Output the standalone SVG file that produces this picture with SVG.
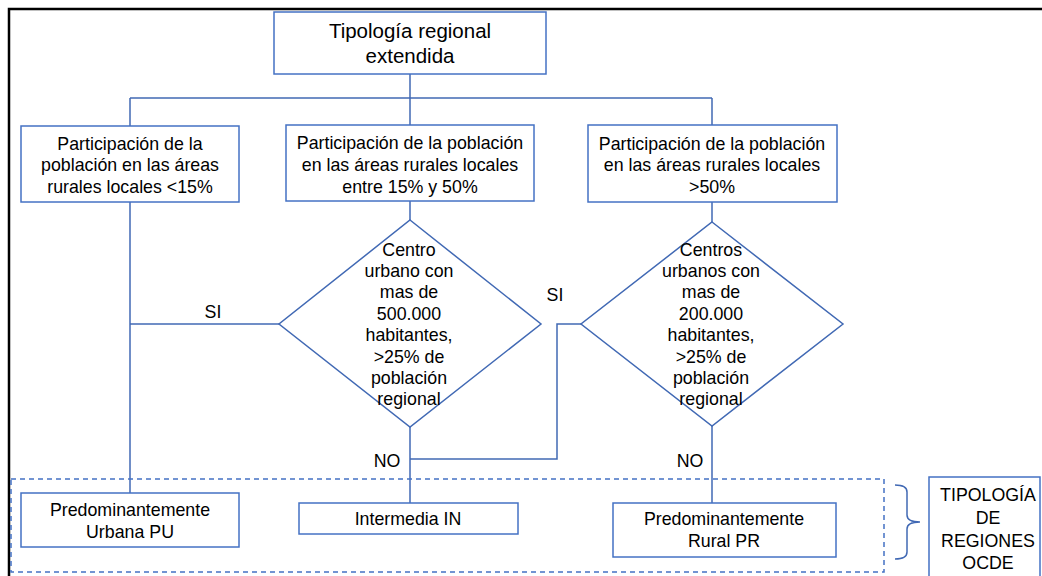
<svg xmlns="http://www.w3.org/2000/svg" width="1042" height="576" viewBox="0 0 1042 576">
<style>
.box{fill:#fff;stroke:#4472C4;stroke-width:1.5}
.ln{fill:none;stroke:#4169B4;stroke-width:1.5}
.t{font-family:"Liberation Sans",Arial,sans-serif;font-size:17.8px;fill:#000;text-anchor:middle}
.tl{font-family:"Liberation Sans",Arial,sans-serif;font-size:20.5px;fill:#000;text-anchor:middle}
</style>
<rect x="0" y="0" width="1042" height="576" fill="#fff"/>
<path d="M9 576 V9 H1042" fill="none" stroke="#000" stroke-width="2.5"/>
<g id="connectors">
<path class="ln" d="M410 74 V98 M130 98 H712 M130 98 V126 M410 98 V125 M712 98 V125"/>
<path class="ln" d="M130 202 V493"/>
<path class="ln" d="M410 201 V220"/>
<path class="ln" d="M712 202 V222"/>
<path class="ln" d="M130 324 H279"/>
<path class="ln" d="M410 427 V503"/>
<path class="ln" d="M581 324 H557 V459 H410"/>
<path class="ln" d="M712 426 V503"/>
<path class="ln" d="M895 485 Q907 485 907 492 V515 Q907 522 920 522 Q907 522 907 529 V552 Q907 559 895 559"/>
<text class="t" x="213" y="318">SI</text>
<text class="t" x="555" y="301">SI</text>
<text class="t" x="387" y="467">NO</text>
<text class="t" x="690" y="467">NO</text>
</g>
<rect id="ocde-group" x="11" y="479" width="873" height="93" fill="none" stroke="#4472C4" stroke-width="1.5" stroke-dasharray="5,4"/>
<g id="root">
<rect class="box" x="274" y="12" width="272" height="62"/>
<text class="tl" x="410" y="38">Tipología regional</text>
<text class="tl" x="410" y="63">extendida</text>
</g>
<g id="box-lt15">
<rect class="box" x="21" y="126" width="218" height="76"/>
<text class="t" x="130" y="150">Participación de la</text>
<text class="t" x="130" y="171">población en las áreas</text>
<text class="t" x="130" y="193">rurales locales &lt;15%</text>
</g>
<g id="box-15-50">
<rect class="box" x="286" y="125" width="248" height="76"/>
<text class="t" x="410" y="149">Participación de la población</text>
<text class="t" x="410" y="171">en las áreas rurales locales</text>
<text class="t" x="410" y="193">entre 15% y 50%</text>
</g>
<g id="box-gt50">
<rect class="box" x="588" y="125" width="249" height="77"/>
<text class="t" x="712" y="150">Participación de la población</text>
<text class="t" x="712" y="171">en las áreas rurales locales</text>
<text class="t" x="712" y="193">&gt;50%</text>
</g>
<g id="diamond-500">
<polygon class="box" points="410,220 541,324 410,427 279,324" style="stroke:#4169B4"/>
<text class="t" x="409" y="256">Centro</text>
<text class="t" x="409" y="277">urbano con</text>
<text class="t" x="409" y="298">mas de</text>
<text class="t" x="409" y="320">500.000</text>
<text class="t" x="409" y="341">habitantes,</text>
<text class="t" x="409" y="363">&gt;25% de</text>
<text class="t" x="409" y="384">población</text>
<text class="t" x="409" y="405">regional</text>
</g>
<g id="diamond-200">
<polygon class="box" points="712,222 843,324 712,426 581,324" style="stroke:#4169B4"/>
<text class="t" x="711" y="256">Centros</text>
<text class="t" x="711" y="277">urbanos con</text>
<text class="t" x="711" y="298">mas de</text>
<text class="t" x="711" y="320">200.000</text>
<text class="t" x="711" y="341">habitantes,</text>
<text class="t" x="711" y="363">&gt;25% de</text>
<text class="t" x="711" y="384">población</text>
<text class="t" x="711" y="405">regional</text>
</g>
<g id="pu">
<rect class="box" x="21" y="493" width="218" height="54"/>
<text class="t" x="130" y="516">Predominantemente</text>
<text class="t" x="130" y="538">Urbana PU</text>
</g>
<g id="in">
<rect class="box" x="299" y="503" width="219" height="31"/>
<text class="t" x="408" y="525">Intermedia IN</text>
</g>
<g id="pr">
<rect class="box" x="613" y="503" width="223" height="54"/>
<text class="t" x="724" y="525">Predominantemente</text>
<text class="t" x="724" y="547">Rural PR</text>
</g>
<g id="ocde">
<rect class="box" x="929" y="477" width="111" height="105"/>
<text class="t" x="988" y="501">TIPOLOGÍA</text>
<text class="t" x="988" y="524">DE</text>
<text class="t" x="988" y="547">REGIONES</text>
<text class="t" x="988" y="569">OCDE</text>
</g>
</svg>
